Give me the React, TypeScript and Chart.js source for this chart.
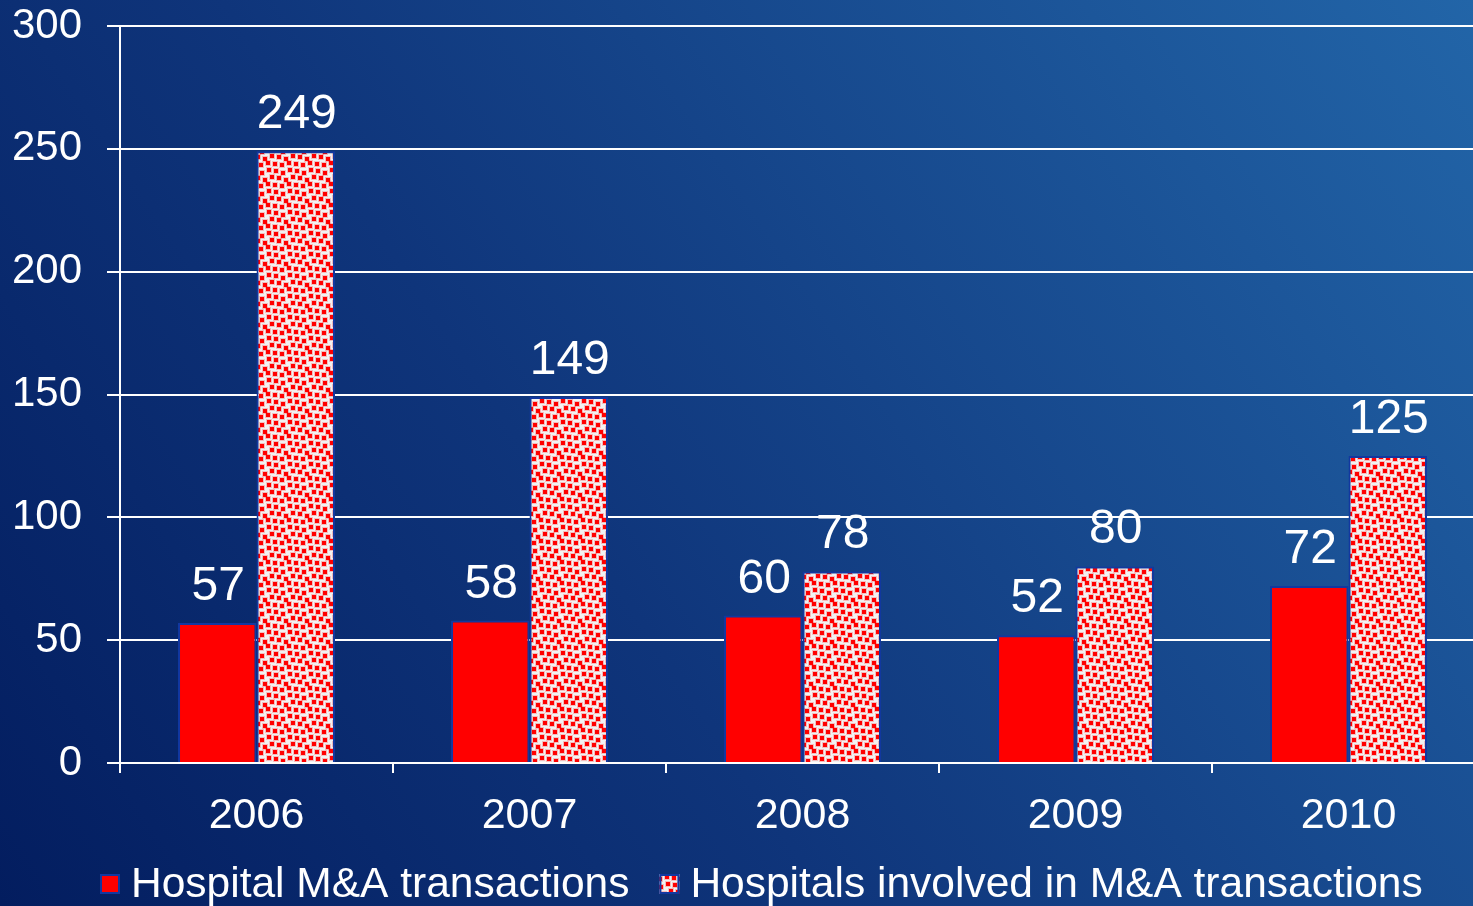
import React, { useEffect, useRef } from "react";
import { Chart, registerables } from "chart.js";

Chart.register(...registerables);

const years = ["2006", "2007", "2008", "2009", "2010"];
const transactions = [57, 58, 60, 52, 72];
const hospitalsInvolved = [249, 149, 78, 80, 125];
const seriesNames = ["Hospital M&A transactions", "Hospitals involved in M&A transactions"];
const yTicks = [0, 50, 100, 150, 200, 250, 300];

const FONT = "'Liberation Sans', Arial, sans-serif";

function makePattern(): CanvasPattern | string {
  const tile = document.createElement("canvas");
  tile.width = 21;
  tile.height = 21;
  const c = tile.getContext("2d");
  if (!c) return "#f2f2f2";
  c.fillStyle = "#f2f2f2";
  c.fillRect(0, 0, 21, 21);
  const spots = [
    [1, 1], [8, 3], [15, 0], [4, 8], [11, 10], [18, 7], [0, 15], [7, 16], [14, 14],
  ];
  for (const [x, y] of spots) {
    for (const dx of [-21, 0, 21]) {
      for (const dy of [-21, 0, 21]) {
        c.fillStyle = "rgba(255,0,0,0.22)";
        c.fillRect(x + dx - 1, y + dy - 1, 6, 6);
        c.fillStyle = "#ff0000";
        c.fillRect(x + dx, y + dy, 4, 4);
      }
    }
  }
  const p = c.createPattern(tile, "repeat");
  return p || "#f2f2f2";
}

const valueLabels = {
  id: "valueLabels",
  afterDatasetsDraw(chart: any) {
    const ctx = chart.ctx;
    ctx.save();
    ctx.fillStyle = "#ffffff";
    ctx.font = `48px ${FONT}`;
    ctx.textAlign = "center";
    ctx.textBaseline = "alphabetic";
    chart.data.datasets.forEach((ds: any, i: number) => {
      const meta = chart.getDatasetMeta(i);
      meta.data.forEach((bar: any, j: number) => {
        ctx.fillText(String(ds.data[j]), bar.x + 1, bar.y - 23);
      });
    });
    ctx.restore();
  },
};

const customLegend = {
  id: "customLegend",
  afterDraw(chart: any) {
    const ctx = chart.ctx;
    ctx.save();
    ctx.font = `42.5px ${FONT}`;
    ctx.textBaseline = "middle";
    ctx.textAlign = "left";
    let x = 100;
    const yMid = 884;
    chart.data.datasets.forEach((ds: any) => {
      ctx.fillStyle = ds.backgroundColor;
      ctx.fillRect(x, yMid - 10, 20, 20);
      ctx.strokeStyle = "#1238a0";
      ctx.lineWidth = 2;
      ctx.strokeRect(x + 1, yMid - 9, 18, 18);
      x += 31;
      ctx.fillStyle = "#ffffff";
      ctx.fillText(ds.label, x, yMid + 1);
      x += ctx.measureText(ds.label).width + 30;
    });
    ctx.restore();
  },
};

export default function App() {
  const ref = useRef<HTMLCanvasElement>(null);

  useEffect(() => {
    if (!ref.current) return;
    const pattern = makePattern();
    const chart = new Chart(ref.current, {
      type: "bar",
      data: {
        labels: years,
        datasets: [
          {
            label: seriesNames[0],
            data: transactions,
            backgroundColor: "#ff0000",
            borderColor: "#1238a0",
            borderWidth: 2,
            categoryPercentage: 0.575,
            barPercentage: 1,
          },
          {
            label: seriesNames[1],
            data: hospitalsInvolved,
            backgroundColor: pattern as any,
            borderColor: "#1238a0",
            borderWidth: 2,
            categoryPercentage: 0.575,
            barPercentage: 1,
          },
        ],
      },
      options: {
        animation: false,
        responsive: false,
        maintainAspectRatio: false,
        layout: { padding: { left: 0, right: 15, top: 26, bottom: 63 } },
        plugins: {
          legend: { display: false },
          tooltip: { enabled: false },
        },
        scales: {
          x: {
            offset: true,
            grid: {
              offset: true,
              drawOnChartArea: false,
              drawTicks: true,
              tickLength: 10,
              color: "#ffffff",
              lineWidth: 2,
            },
            border: { display: true, color: "#ffffff", width: 2 },
            ticks: {
              color: "#ffffff",
              font: { family: FONT, size: 43 },
              padding: 17,
            },
            afterFit: (s: any) => {
              s.height = 80;
              s.paddingLeft = 0;
              s.paddingRight = 0;
            },
          },
          y: {
            min: 0,
            max: 300,
            afterBuildTicks: (s: any) => {
              s.ticks = yTicks.map((v) => ({ value: v }));
            },
            grid: {
              color: "#ffffff",
              lineWidth: 2,
              drawTicks: true,
              tickLength: 13,
            },
            border: { display: true, color: "#ffffff", width: 2 },
            ticks: {
              color: "#ffffff",
              font: { family: FONT, size: 42 },
              padding: 25,
            },
            afterFit: (s: any) => {
              s.width = 120;
              s.paddingTop = 0;
              s.paddingBottom = 0;
            },
          },
        },
      },
      plugins: [valueLabels, customLegend],
    });
    return () => chart.destroy();
  }, []);

  return (
    <div
      style={{
        position: "fixed",
        left: 0,
        top: 0,
        width: 1473,
        height: 906,
        overflow: "hidden",
        background: "linear-gradient(56deg, #031d5f 0%, #0f357b 40%, #2265a8 100%)",
      }}
    >
      <canvas ref={ref} width={1500} height={906} style={{ display: "block", width: 1500, height: 906 }} />
    </div>
  );
}
